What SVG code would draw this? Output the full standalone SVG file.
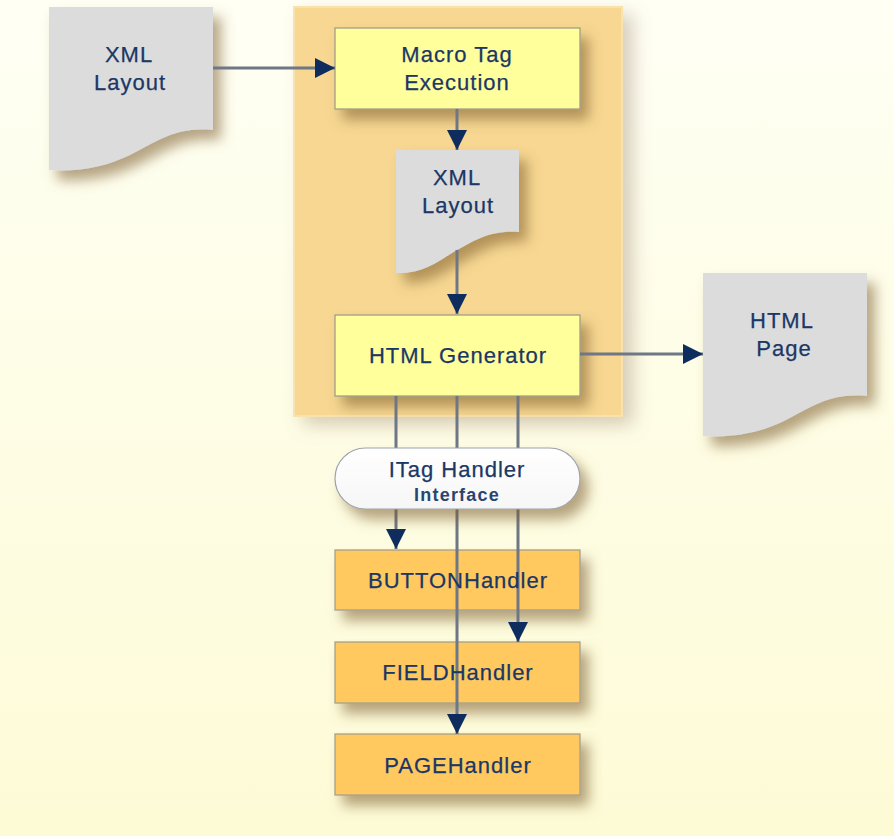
<svg xmlns="http://www.w3.org/2000/svg" width="894" height="836" viewBox="0 0 894 836">
<defs>
<linearGradient id="bg" x1="0" y1="0" x2="0" y2="1">
<stop offset="0" stop-color="#FFFFF4"/>
<stop offset="1" stop-color="#FDFBD6"/>
</linearGradient>
<linearGradient id="pill" x1="0" y1="0" x2="0" y2="1">
<stop offset="0" stop-color="#FFFFFF"/>
<stop offset="1" stop-color="#F6F6F6"/>
</linearGradient>
<filter id="sh" x="-20%" y="-20%" width="150%" height="170%">
<feGaussianBlur in="SourceAlpha" stdDeviation="6.5"/>
<feOffset dx="8" dy="10" result="b"/>
<feFlood flood-color="#7A5A2A" flood-opacity="0.55"/>
<feComposite in2="b" operator="in"/>
<feMerge><feMergeNode/><feMergeNode in="SourceGraphic"/></feMerge>
</filter>
<filter id="shc" x="-10%" y="-10%" width="130%" height="125%">
<feGaussianBlur in="SourceAlpha" stdDeviation="9"/>
<feOffset dx="10" dy="8" result="b"/>
<feFlood flood-color="#9C8470" flood-opacity="0.4"/>
<feComposite in2="b" operator="in"/>
<feMerge><feMergeNode/><feMergeNode in="SourceGraphic"/></feMerge>
</filter>
<marker id="ah" markerUnits="userSpaceOnUse" markerWidth="20" markerHeight="20" refX="20" refY="10" orient="auto" viewBox="0 0 20 20">
<path d="M0,0 L20,10 L0,20 Z" fill="#0E2D5E"/>
</marker>
<style>
.t{font-family:"Liberation Sans",Arial,sans-serif;font-size:22px;fill:#1A3765;text-anchor:middle;letter-spacing:1px;stroke:#1A3765;stroke-width:0.25}
.ts{font-family:"Liberation Sans",Arial,sans-serif;font-size:18px;font-weight:bold;fill:#2A4470;text-anchor:middle;letter-spacing:1.2px}
.doc{fill:#DCDCDC}
.box{fill:#FFFF9C;stroke:#A09E88;stroke-width:1.3}
.hb{fill:#FFC960;stroke:#A8A08A;stroke-width:1.3}
.c{stroke:#6D7786;stroke-width:3;fill:none}
</style>
</defs>
<rect width="894" height="836" fill="url(#bg)"/>
<g id="container"><rect x="294" y="7" width="328" height="409" fill="#F7D792" stroke="#F9E2AE" stroke-width="2" filter="url(#shc)"/></g>
<g id="xml-layout-in" filter="url(#sh)"><path class="doc" d="M49,7 H213 V130 C175,127 160,140 130,155 C105,167 80,172 49,170 Z"/></g>
<g id="xml-layout-in-text"><text class="t" x="129" y="62">XML</text><text class="t" x="130" y="90">Layout</text></g>
<g id="macro" filter="url(#sh)"><rect class="box" x="335" y="28" width="245" height="81"/></g>
<g id="macro-text"><text class="t" x="457" y="62">Macro Tag</text><text class="t" x="457" y="90">Execution</text></g>
<g id="xml-layout-mid" filter="url(#sh)"><path class="doc" d="M396,150 H519 V232 C490,230 475,240 452,253 C435,264 420,274 396,273 Z"/></g>
<g id="xml-layout-mid-text"><text class="t" x="457" y="185">XML</text><text class="t" x="458" y="213">Layout</text></g>
<g id="htmlgen" filter="url(#sh)"><rect class="box" x="335" y="315" width="245" height="81"/></g>
<g id="htmlgen-text"><text class="t" x="458" y="363">HTML Generator</text></g>
<g id="htmlpage" filter="url(#sh)"><path class="doc" d="M703,273 H867 V396 C829,393 814,406 784,421 C759,433 734,438 703,436 Z"/></g>
<g id="htmlpage-text"><text class="t" x="782" y="328">HTML</text><text class="t" x="784" y="356">Page</text></g>
<g id="button" filter="url(#sh)"><rect class="hb" x="335" y="550" width="245" height="60"/></g>
<g id="field" filter="url(#sh)"><rect class="hb" x="335" y="642" width="245" height="61"/></g>
<g id="page" filter="url(#sh)"><rect class="hb" x="335" y="734" width="245" height="61"/></g>
<g id="connectors">
<line class="c" x1="213" y1="68" x2="335" y2="68" marker-end="url(#ah)"/>
<line class="c" x1="457" y1="109" x2="457" y2="150" marker-end="url(#ah)"/>
<line class="c" x1="457" y1="250" x2="457" y2="314" marker-end="url(#ah)"/>
<line class="c" x1="580" y1="354" x2="703" y2="354" marker-end="url(#ah)"/>
<line class="c" x1="396" y1="396" x2="396" y2="549" marker-end="url(#ah)"/>
<line class="c" x1="518" y1="396" x2="518" y2="642" marker-end="url(#ah)"/>
<line class="c" x1="457" y1="396" x2="457" y2="734" marker-end="url(#ah)"/>
</g>
<g id="handler-text"><text class="t" x="458" y="588">BUTTONHandler</text><text class="t" x="458" y="680">FIELDHandler</text><text class="t" x="458" y="773">PAGEHandler</text></g>
<g id="itag" filter="url(#sh)"><rect x="335" y="448" width="245" height="61" rx="30.5" fill="url(#pill)" stroke="#9EA3AA" stroke-width="1.2"/></g>
<g id="itag-text"><text class="t" x="457" y="477">ITag Handler</text><text class="ts" x="457" y="501">Interface</text></g>
</svg>
